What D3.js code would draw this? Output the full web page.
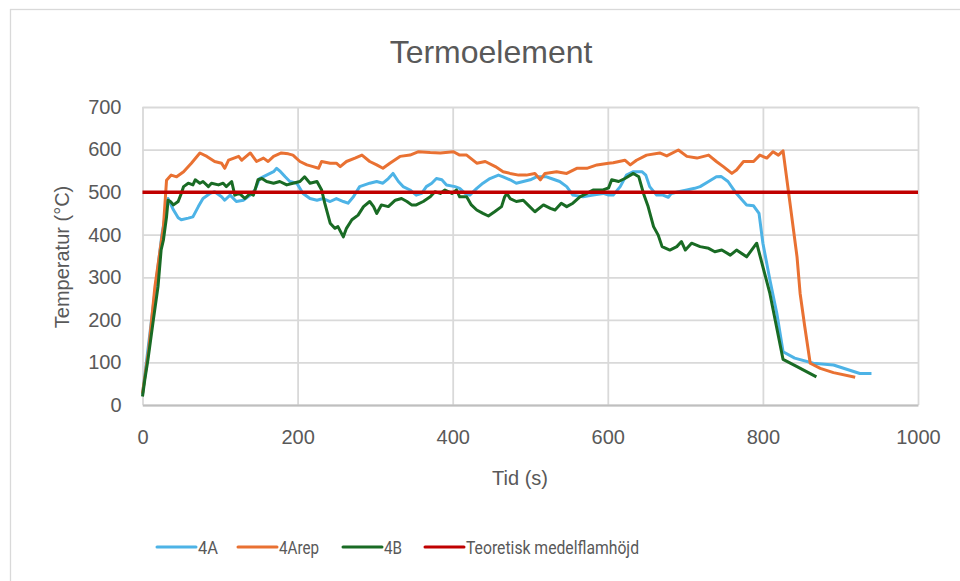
<!DOCTYPE html>
<html><head><meta charset="utf-8">
<script src="https://cdn.jsdelivr.net/npm/d3@7"></script>
<style>
html,body{margin:0;padding:0;background:#fff;}
svg{display:block;}
</style></head>
<body>
<svg id="chart" width="960" height="581"></svg>
<script>
const title = "Termoelement";
const xLabel = "Tid (s)";
const yLabel = "Temperatur (°C)";
const xTicks = [0, 200, 400, 600, 800, 1000];
const yTicks = [0, 100, 200, 300, 400, 500, 600, 700];
const seriesNames = ["4A", "4Arep", "4B", "Teoretisk medelflamhöjd"];

const data4A = [[0,25],[5,100],[15,250],[25,400],[33,485],[40,458],[46,440],[50,435],[59,439],[65,442],[72,466],[78,485],[87,497],[93,501],[102,489],[106,481],[113,493],[121,478],[130,481],[139,493],[145,505],[151,532],[160,540],[169,548],[173,556],[178,548],[184,536],[190,525],[199,521],[207,497],[216,485],[225,481],[233,485],[242,478],[250,485],[259,478],[265,474],[272,489],[280,513],[293,521],[302,525],[310,521],[317,532],[323,544],[330,525],[336,513],[345,505],[353,493],[360,497],[366,513],[373,521],[379,532],[386,529],[392,517],[403,513],[409,509],[416,497],[422,493],[431,509],[439,521],[448,532],[459,540],[465,536],[474,529],[482,521],[491,525],[500,529],[508,536],[521,536],[527,532],[538,525],[547,513],[555,493],[568,489],[581,493],[594,497],[601,493],[607,493],[616,513],[624,540],[633,548],[644,548],[649,540],[654,513],[663,493],[671,493],[678,488],[682,497],[691,501],[702,505],[712,509],[719,513],[730,525],[740,536],[746,537],[755,525],[764,501],[773,482],[779,470],[788,468],[795,450],[800,380],[809,294],[818,215],[826,125],[841,110],[865,98],[891,94],[908,84],[925,74],[940,74]];

const data4Arep = [[0,27],[8,130],[16,278],[27,419],[31,528],[37,540],[44,536],[53,548],[63,568],[74,592],[83,584],[93,572],[102,568],[106,556],[111,575],[124,584],[128,575],[139,592],[147,572],[156,580],[162,572],[169,584],[179,592],[188,590],[194,587],[203,572],[212,564],[220,560],[227,556],[231,572],[242,568],[250,568],[255,560],[263,572],[274,580],[283,587],[293,572],[302,564],[310,556],[319,568],[332,584],[345,587],[356,595],[371,593],[384,592],[401,595],[409,587],[418,587],[431,568],[442,572],[455,560],[465,548],[474,544],[485,540],[495,540],[506,544],[513,529],[519,544],[534,548],[547,544],[560,556],[573,556],[586,564],[601,568],[607,569],[622,575],[629,564],[637,575],[650,587],[667,592],[676,585],[691,599],[702,584],[715,580],[730,587],[740,572],[749,560],[760,544],[766,552],[775,572],[788,572],[796,587],[805,580],[813,595],[820,587],[826,597],[833,501],[844,348],[848,262],[854,184],[861,98],[874,86],[891,76],[919,65]];

const data4B = [[0,20],[3,60],[7,106],[14,200],[20,278],[24,364],[27,388],[31,442],[33,481],[36,478],[40,470],[46,478],[50,497],[53,513],[59,521],[65,517],[68,529],[74,521],[78,525],[85,513],[89,521],[98,517],[104,521],[108,513],[115,525],[119,493],[125,497],[132,485],[139,497],[143,493],[149,529],[154,532],[160,525],[169,521],[177,525],[186,517],[194,521],[203,525],[209,536],[216,521],[225,525],[231,505],[235,474],[242,427],[248,415],[252,419],[259,395],[263,415],[270,435],[278,446],[285,466],[293,478],[298,466],[302,450],[308,470],[317,466],[326,481],[334,485],[341,478],[347,470],[353,470],[362,478],[371,489],[377,501],[384,497],[390,505],[399,497],[405,505],[409,489],[418,489],[424,470],[431,458],[439,450],[446,444],[454,454],[463,466],[467,489],[470,497],[474,485],[482,478],[491,481],[497,470],[506,454],[517,470],[526,462],[532,458],[540,474],[547,466],[555,474],[564,489],[573,497],[581,505],[594,505],[601,510],[605,529],[614,525],[622,532],[633,544],[640,536],[646,497],[652,466],[659,419],[665,399],[670,372],[680,364],[689,372],[695,384],[700,364],[708,380],[719,372],[730,368],[738,360],[747,364],[758,352],[766,364],[779,348],[792,380],[809,262],[826,107],[844,90],[869,66]];

const dataRef = [[0,500],[1000,500]];

const colors = ["#4db3e6", "#e97132", "#196b24", "#c00000"];
const legendTextWidths = [20, 40, 18, 173];

const svg = d3.select("#chart");
const W = 960, H = 581;
const x = d3.scaleLinear().domain([0, 1000]).range([142.5, 918]);
const y = d3.scaleLinear().domain([0, 700]).range([405, 107]);
const textCol = "#595959";
const gridCol = "#d9d9d9";
const font = "'Liberation Sans', Arial, sans-serif";

svg.append("rect").attr("width", W).attr("height", H).attr("fill", "#fff");
svg.append("rect").attr("x", 10.5).attr("y", 9.5).attr("width", 980).attr("height", 620)
  .attr("fill", "none").attr("stroke", gridCol).attr("stroke-width", 1.3);

// gridlines
const gy = svg.append("g").attr("transform", `translate(${x(0)},0)`)
  .call(d3.axisLeft(y).tickValues(yTicks).tickSize(-(x(1000) - x(0))).tickFormat(""));
gy.select(".domain").remove();
gy.selectAll("line").attr("stroke", gridCol).attr("stroke-width", 1.8);
const gx = svg.append("g").attr("transform", `translate(0,${y(0)})`)
  .call(d3.axisBottom(x).tickValues(xTicks).tickSize(-(y(0) - y(700))).tickFormat(""));
gx.select(".domain").remove();
gx.selectAll("line").attr("stroke", gridCol).attr("stroke-width", 1.8);

// tick labels
const yAx = svg.append("g").attr("transform", `translate(${x(0)},0)`)
  .call(d3.axisLeft(y).tickValues(yTicks).tickSize(0).tickPadding(21).tickFormat(d3.format("d")));
yAx.select(".domain").remove();
yAx.selectAll("text").attr("fill", textCol).attr("font-family", font).attr("font-size", 20);
const xAx = svg.append("g").attr("transform", `translate(0,${y(0)})`)
  .call(d3.axisBottom(x).tickValues(xTicks).tickSize(0).tickPadding(25).tickFormat(d3.format("d")));
xAx.select(".domain").attr("stroke", "#bfbfbf").attr("stroke-width", 1.8);
xAx.selectAll("text").attr("fill", textCol).attr("font-family", font).attr("font-size", 20);

// series
const line = d3.line().x(d => x(d[0])).y(d => y(d[1]));
const all = [data4A, data4Arep, data4B];
all.forEach((ds, i) => {
  svg.append("path").datum(ds).attr("d", line).attr("fill", "none")
    .attr("stroke", colors[i]).attr("stroke-width", 3).attr("stroke-linejoin", "round");
});
svg.append("path").datum(dataRef).attr("d", line).attr("fill", "none")
  .attr("stroke", colors[3]).attr("stroke-width", 3.5);

// title & labels
svg.append("text").attr("x", 491).attr("y", 63).attr("text-anchor", "middle")
  .attr("font-family", font).attr("font-size", 32).attr("fill", textCol).text(title);
svg.append("text").attr("x", 520).attr("y", 485).attr("text-anchor", "middle")
  .attr("font-family", font).attr("font-size", 20).attr("fill", textCol).text(xLabel);
svg.append("text").attr("transform", "translate(69,257) rotate(-90)").attr("text-anchor", "middle")
  .attr("font-family", font).attr("font-size", 20).attr("fill", textCol).text(yLabel);

// legend
const legX = [157, 238, 343, 425];
const lg = svg.append("g");
seriesNames.forEach((n, i) => {
  lg.append("line").attr("x1", legX[i]).attr("x2", legX[i] + 39).attr("y1", 547).attr("y2", 547)
    .attr("stroke", colors[i]).attr("stroke-width", 3).attr("stroke-linecap", "round");
  lg.append("text").attr("x", legX[i] + 41).attr("y", 554)
    .attr("font-family", "Roboto, sans-serif")
    .attr("font-size", 19).attr("fill", textCol)
    .attr("textLength", legendTextWidths[i]).attr("lengthAdjust", "spacingAndGlyphs").text(n);
});
</script>
</body></html>
